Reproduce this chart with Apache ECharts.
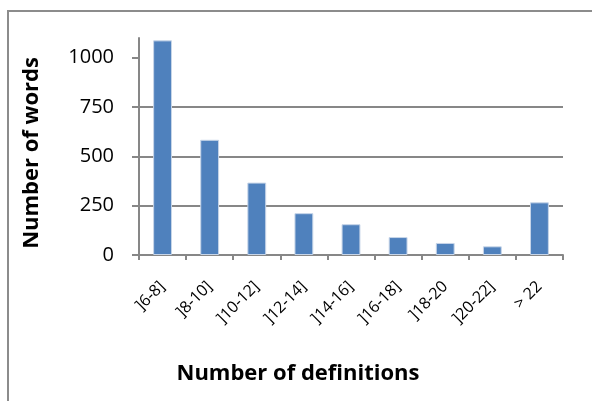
<!DOCTYPE html>
<html>
<head>
<meta charset="utf-8">
<style>
  html, body { margin: 0; padding: 0; background: #fff; }
  #main { width: 592px; height: 401px; }
</style>
</head>
<body>
<div id="main"></div>
<script src="https://cdn.jsdelivr.net/npm/echarts@6/dist/echarts.min.js"></script>
<script>
    // histogram: how many words have a given number of definitions
    var categories = [']6-8]', ']8-10]', ']10-12]', ']12-14]', ']14-16]', ']16-18]', ']18-20', ']20-22]', '> 22'];
    var wordCounts = [1088, 584, 367, 212, 156, 91, 61, 44, 267];
    var yTicks = [0, 250, 500, 750, 1000];

    var myChart = echarts.init(document.getElementById('main'));

    var option = {
        backgroundColor: '#FFFFFF',
        animation: false,
        textStyle: {fontFamily: 'Open Sans'},
        graphic: [{
            type: 'polyline',
            shape: {points: [[8, 401], [8, 11], [592, 11]]},
            style: {stroke: '#8c8c8c', lineWidth: 2, fill: null}
        }],
        grid: {
            left: 139,
            right: 29,
            top: 38,
            bottom: 146
        },
        xAxis: {
            type: 'category',
            data: categories,
            name: 'Number of definitions',
            nameLocation: 'middle',
            nameGap: 108,
            nameTextStyle: {
                color: '#000',
                fontWeight: 'bold',
                fontSize: 22,
                fontFamily: 'Open Sans',
                padding: [0, 106, 0, 0]
            },
            axisLine: {lineStyle: {color: '#878787', width: 2}},
            axisTick: {show: true, length: 5, lineStyle: {color: '#878787', width: 2}},
            axisLabel: {
                interval: 0,
                rotate: 45,
                margin: 29,
                color: '#000',
                fontSize: 16,
                fontFamily: 'Open Sans'
            },
            splitLine: {show: false}
        },
        yAxis: {
            type: 'value',
            min: 0,
            max: 1100,
            interval: 250,
            name: 'Number of words',
            nameLocation: 'middle',
            nameGap: 96,
            nameTextStyle: {
                color: '#000',
                fontWeight: 'bold',
                fontSize: 22,
                fontFamily: 'Open Sans',
                padding: [0, 13, 0, 0]
            },
            axisLine: {show: true, lineStyle: {color: '#878787', width: 2}},
            axisTick: {show: true, length: 7, customValues: yTicks, lineStyle: {color: '#878787', width: 2}},
            axisLabel: {
                margin: 25,
                color: '#000',
                fontSize: 20,
                fontFamily: 'Open Sans',
                customValues: yTicks,
                formatter: function (v) { return String(v); }
            },
            splitLine: {
                show: true,
                showMaxLine: false,
                lineStyle: {color: '#878787', width: 2}
            }
        },
        series: [{
            type: 'bar',
            name: 'Number of words',
            data: wordCounts,
            barWidth: '40%',
            itemStyle: {
                color: '#4F81BD',
                borderColor: '#C7D5E8',
                borderWidth: 1
            }
        }]
    };

    myChart.setOption(option);
</script>
</body>
</html>
